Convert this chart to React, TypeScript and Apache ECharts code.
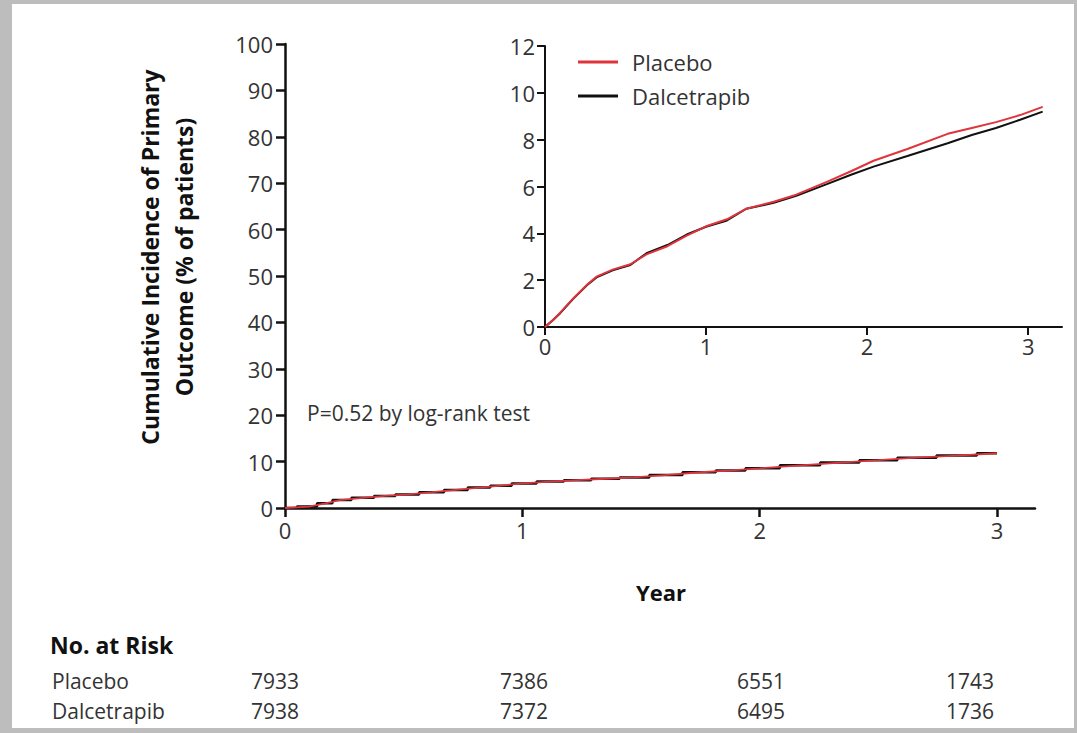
import React, { useEffect, useRef } from "react";
import * as echarts from "echarts";

// ---- Data ----
const mainYears = [0, 0.1, 0.17, 0.23, 0.33, 0.42, 0.51, 0.62, 0.72, 0.82, 0.91, 1.0, 1.12, 1.23, 1.35, 1.47, 1.6, 1.75, 1.88, 2.0, 2.17, 2.34, 2.5, 2.66, 2.83, 3.0];
const mainPlacebo = [0, 0.3, 1.0, 1.7, 2.2, 2.6, 2.9, 3.4, 3.9, 4.4, 4.8, 5.3, 5.7, 6.0, 6.3, 6.6, 7.1, 7.7, 8.1, 8.55, 9.2, 9.8, 10.3, 10.85, 11.3, 11.8];
const mainDalcetrapib = [0, 0.3, 1.0, 1.7, 2.2, 2.6, 2.9, 3.4, 3.9, 4.4, 4.8, 5.3, 5.7, 6.0, 6.3, 6.6, 7.1, 7.7, 8.1, 8.55, 9.2, 9.8, 10.3, 10.85, 11.3, 11.8];

const insetYears = [0, 0.05, 0.093, 0.175, 0.26, 0.32, 0.42, 0.53, 0.63, 0.76, 0.88, 1.0, 1.13, 1.25, 1.42, 1.56, 1.75, 1.9, 2.04, 2.25, 2.5, 2.65, 2.8, 2.95, 3.09];
const insetPlacebo = [0, 0.3, 0.6, 1.22, 1.8, 2.15, 2.45, 2.68, 3.1, 3.45, 3.9, 4.3, 4.6, 5.05, 5.35, 5.65, 6.2, 6.65, 7.1, 7.6, 8.25, 8.5, 8.75, 9.05, 9.4];
const insetDalcetrapib = [0, 0.3, 0.58, 1.2, 1.78, 2.12, 2.42, 2.65, 3.15, 3.5, 3.95, 4.28, 4.55, 5.05, 5.3, 5.6, 6.1, 6.5, 6.85, 7.3, 7.85, 8.2, 8.5, 8.85, 9.2];

const yearTicks = [0, 1, 2, 3];
const riskGroups = ["Placebo", "Dalcetrapib"];
const riskPlacebo = [7933, 7386, 6551, 1743];
const riskDalcetrapib = [7938, 7372, 6495, 1736];

const RED = "#e0343c";
const BLACK = "#111111";
const FONT = "Open Sans";

const pairs = (xs: number[], ys: number[]) => xs.map((x, i) => [x, ys[i]]);

export default function App() {
  const ref = useRef<HTMLDivElement>(null);

  useEffect(() => {
    if (!ref.current) return;
    const chart = echarts.init(ref.current, null, { renderer: "svg" });

    const axisLine = (w: number) => ({ show: true, lineStyle: { color: BLACK, width: w } });
    const tickLbl = { color: "#333", fontSize: 22, fontFamily: FONT };

    const riskCols = [275, 524, 761, 970];
    const riskRows = [riskPlacebo, riskDalcetrapib];
    const riskRowY = [681, 711];

    const graphics: any[] = [
      {
        type: "text", x: 150, y: 257, rotation: Math.PI / 2,
        style: { text: "Cumulative Incidence of Primary", font: `bold 23px '${FONT}'`, fill: "#111", textAlign: "center", textVerticalAlign: "middle" },
      },
      {
        type: "text", x: 184, y: 257, rotation: Math.PI / 2,
        style: { text: "Outcome (% of patients)", font: `bold 23px '${FONT}'`, fill: "#111", textAlign: "center", textVerticalAlign: "middle" },
      },
      {
        type: "text", x: 307, y: 413,
        style: { text: "P=0.52 by log-rank test", font: `21px '${FONT}'`, fill: "#333", textAlign: "left", textVerticalAlign: "middle" },
      },
      {
        type: "text", x: 661, y: 592,
        style: { text: "Year", font: `bold 22px '${FONT}'`, fill: "#111", textAlign: "center", textVerticalAlign: "middle" },
      },
      {
        type: "text", x: 50, y: 645,
        style: { text: "No. at Risk", font: `bold 23px '${FONT}'`, fill: "#111", textAlign: "left", textVerticalAlign: "middle" },
      },
    ];
    riskGroups.forEach((g, r) => {
      graphics.push({
        type: "text", x: 52, y: riskRowY[r],
        style: { text: g, font: `21px '${FONT}'`, fill: "#333", textAlign: "left", textVerticalAlign: "middle" },
      });
      riskRows[r].forEach((v, c) => {
        graphics.push({
          type: "text", x: riskCols[c], y: riskRowY[r],
          style: { text: String(v), font: `21px '${FONT}'`, fill: "#333", textAlign: "center", textVerticalAlign: "middle" },
        });
      });
    });

    chart.setOption({
      animation: false,
      backgroundColor: "transparent",
      textStyle: { fontFamily: FONT },
      grid: [
        { left: 285, top: 44, width: 750, height: 464, containLabel: false },
        { left: 545, top: 46, width: 517, height: 281, containLabel: false },
      ],
      xAxis: [
        {
          type: "value", gridIndex: 0, min: 0, max: 3.16, interval: 1,
          axisLine: axisLine(2.5),
          axisTick: { show: true, length: 9, lineStyle: { color: BLACK, width: 2.5 }, customValues: yearTicks },
          axisLabel: { ...tickLbl, margin: 11, customValues: yearTicks },
          splitLine: { show: false },
        },
        {
          type: "value", gridIndex: 1, min: 0, max: 3.21, interval: 1,
          axisLine: axisLine(2),
          axisTick: { show: true, length: 8, lineStyle: { color: BLACK, width: 2 }, customValues: yearTicks },
          axisLabel: { ...tickLbl, margin: 8, customValues: yearTicks },
          splitLine: { show: false },
        },
      ],
      yAxis: [
        {
          type: "value", gridIndex: 0, min: 0, max: 100, interval: 10,
          axisLine: axisLine(2.5),
          axisTick: { show: true, length: 9, lineStyle: { color: BLACK, width: 2.5 } },
          axisLabel: { ...tickLbl, margin: 12 },
          splitLine: { show: false },
        },
        {
          type: "value", gridIndex: 1, min: 0, max: 12, interval: 2,
          axisLine: axisLine(2),
          axisTick: { show: true, length: 8, lineStyle: { color: BLACK, width: 2 } },
          axisLabel: { ...tickLbl, margin: 10 },
          splitLine: { show: false },
        },
      ],
      legend: {
        data: ["Placebo", "Dalcetrapib"],
        orient: "vertical",
        left: 578, top: 51,
        icon: "rect",
        itemWidth: 40, itemHeight: 3,
        itemGap: 12,
        padding: 0,
        textStyle: { fontSize: 22, color: "#333", fontFamily: FONT, lineHeight: 22, padding: [0, 0, 0, 9] },
      },
      series: [
        {
          name: "Dalcetrapib (all)", type: "line", xAxisIndex: 0, yAxisIndex: 0,
          data: pairs(mainYears, mainDalcetrapib), step: "middle", showSymbol: false, symbol: "none",
          lineStyle: { color: BLACK, width: 2.5 }, itemStyle: { color: BLACK }, z: 2,
        },
        {
          name: "Placebo (all)", type: "line", xAxisIndex: 0, yAxisIndex: 0,
          data: pairs(mainYears, mainPlacebo), showSymbol: false, symbol: "none",
          lineStyle: { color: RED, width: 1.8 }, itemStyle: { color: RED }, z: 3,
        },
        {
          name: "Dalcetrapib", type: "line", xAxisIndex: 1, yAxisIndex: 1,
          data: pairs(insetYears, insetDalcetrapib), showSymbol: false, symbol: "none",
          lineStyle: { color: BLACK, width: 2 }, itemStyle: { color: BLACK }, z: 2,
        },
        {
          name: "Placebo", type: "line", xAxisIndex: 1, yAxisIndex: 1,
          data: pairs(insetYears, insetPlacebo), showSymbol: false, symbol: "none",
          lineStyle: { color: RED, width: 2 }, itemStyle: { color: RED }, z: 3,
        },
      ],
      graphic: graphics,
    });

    return () => chart.dispose();
  }, []);

  return (
    <div style={{ position: "absolute", left: 0, top: 0, width: 1077, height: 733, background: "#bdbdbd", overflow: "hidden" }}>
      <div style={{ position: "absolute", left: 12, top: 4, width: 1062, height: 724, background: "#ffffff" }} />
      <div ref={ref} style={{ position: "absolute", left: 0, top: 0, width: 1077, height: 733 }} />
    </div>
  );
}
